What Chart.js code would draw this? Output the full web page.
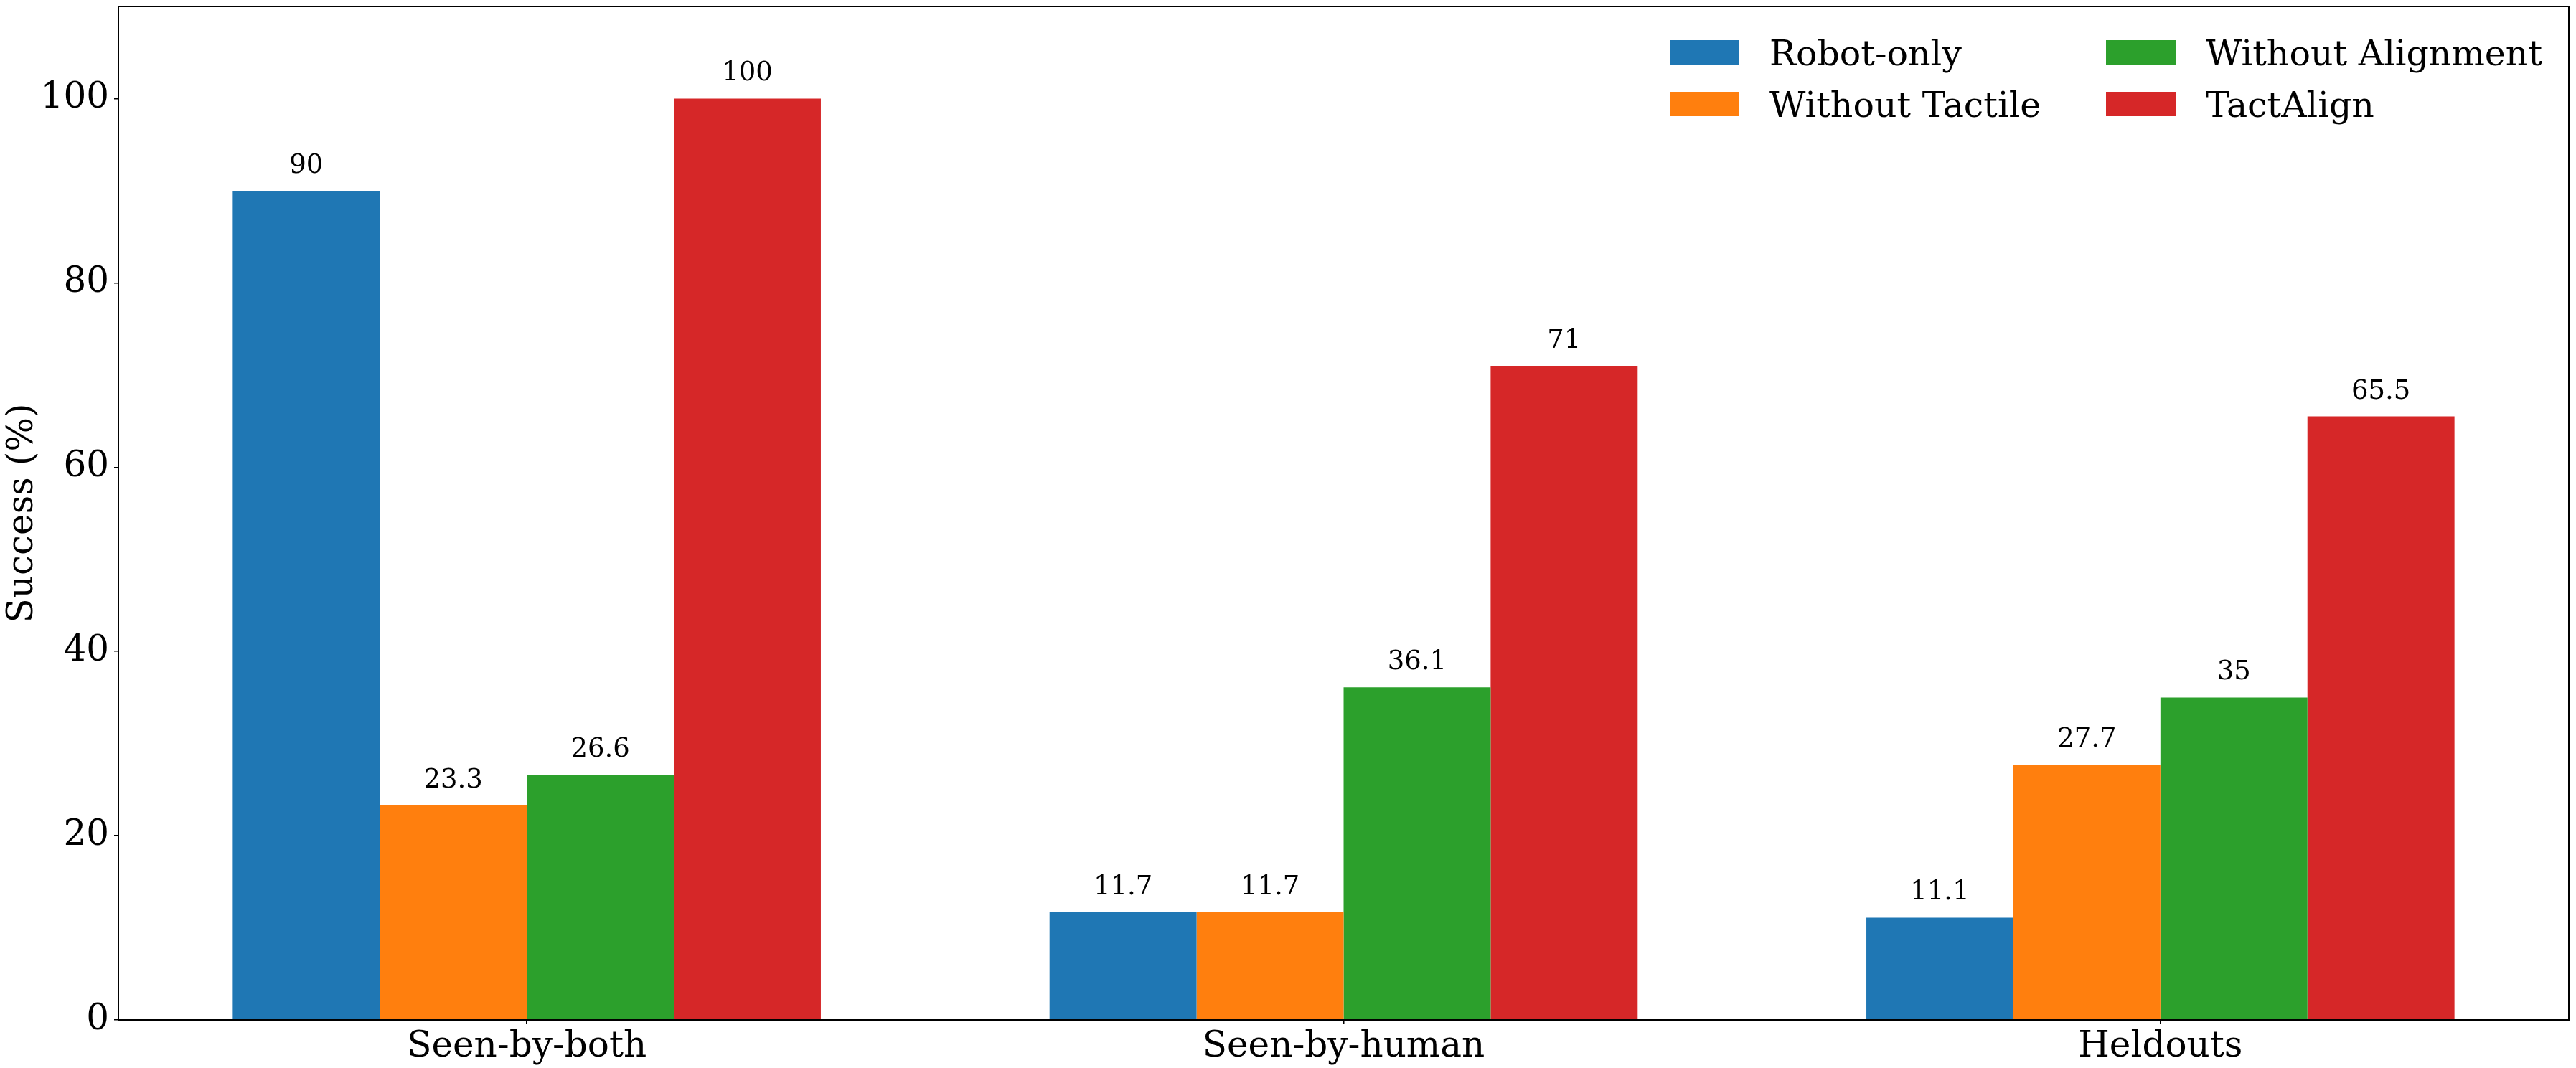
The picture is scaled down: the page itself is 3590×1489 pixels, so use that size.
<!DOCTYPE html>
<html>
<head>
<meta charset="utf-8">
<script src="https://cdn.jsdelivr.net/npm/chart.js@4"></script>
<style>
  body { margin: 0; background: #fff; }
  canvas { display: block; }
</style>
</head>
<body>
<canvas id="chart" width="3590" height="1489"></canvas>
<script>
// categories and series
const groups = ['Seen-by-both', 'Seen-by-human', 'Heldouts'];
const robotOnly = [90, 11.7, 11.1];
const withoutTactile = [23.3, 11.7, 27.7];
const withoutAlignment = [26.6, 36.1, 35];
const tactAlign = [100, 71, 65.5];
const yTicks = [0, 20, 40, 60, 80, 100];

const FONT = 'DejaVu Serif';
Chart.defaults.font.family = FONT;
Chart.defaults.color = '#000';

// value labels above each bar
const barLabels = {
  id: 'barLabels',
  afterDatasetsDraw(chart) {
    const ctx = chart.ctx;
    ctx.save();
    ctx.font = '37px "' + FONT + '"';
    ctx.fillStyle = '#000';
    ctx.textAlign = 'center';
    ctx.textBaseline = 'alphabetic';
    chart.data.datasets.forEach((ds, i) => {
      chart.getDatasetMeta(i).data.forEach((bar, j) => {
        ctx.fillText(String(ds.data[j]), bar.x, bar.y - 25);
      });
    });
    ctx.restore();
  }
};

// axes box (all four spines) and a two-column legend like matplotlib's
const frameAndLegend = {
  id: 'frameAndLegend',
  afterDraw(chart) {
    const ctx = chart.ctx;
    const a = chart.chartArea;
    ctx.save();
    ctx.strokeStyle = '#000';
    ctx.lineWidth = 2;
    ctx.strokeRect(a.left, a.top, a.right - a.left, a.bottom - a.top);

    // column-first order, as with ncol=2
    const colX = [2327, 2935];
    const rowY = [56, 128];
    ctx.font = '49px "' + FONT + '"';
    ctx.textBaseline = 'alphabetic';
    ctx.textAlign = 'left';
    chart.data.datasets.forEach((ds, k) => {
      const x = colX[Math.floor(k / 2)];
      const y = rowY[k % 2];
      ctx.fillStyle = ds.backgroundColor;
      ctx.fillRect(x, y, 97, 34);
      ctx.fillStyle = '#000';
      ctx.fillText(ds.label, x + 139, y + 35);
    });
    ctx.restore();
  }
};

new Chart(document.getElementById('chart'), {
  type: 'bar',
  data: {
    labels: groups,
    datasets: [
      { label: 'Robot-only', data: robotOnly, backgroundColor: '#1f77b4' },
      { label: 'Without Tactile', data: withoutTactile, backgroundColor: '#ff7f0e' },
      { label: 'Without Alignment', data: withoutAlignment, backgroundColor: '#2ca02c' },
      { label: 'TactAlign', data: tactAlign, backgroundColor: '#d62728' }
    ]
  },
  options: {
    responsive: false,
    animation: false,
    devicePixelRatio: 1,
    categoryPercentage: 0.72,
    barPercentage: 1.0,
    layout: { padding: { top: 9, right: 10, left: 0, bottom: 0 } },
    plugins: {
      legend: { display: false },
      tooltip: { enabled: false }
    },
    scales: {
      x: {
        grid: {
          offset: false,
          drawOnChartArea: false,
          drawTicks: true,
          tickLength: 6,
          color: '#000',
          lineWidth: 1.5
        },
        border: { display: false },
        ticks: { font: { size: 50 }, padding: 2, maxRotation: 0 },
        afterFit(scale) {
          scale.height = 67;
          scale.paddingLeft = 0;
          scale.paddingRight = 0;
        }
      },
      y: {
        min: 0,
        max: 110,
        grid: {
          drawOnChartArea: false,
          drawTicks: true,
          tickLength: 6,
          color: '#000',
          lineWidth: 1.5
        },
        border: { display: false },
        ticks: { font: { size: 50 }, padding: 7 },
        afterBuildTicks(scale) {
          scale.ticks = yTicks.map(v => ({ value: v }));
        },
        title: {
          display: true,
          text: 'Success (%)',
          font: { size: 50 },
          padding: { top: 2, bottom: 0 }
        },
        afterFit(scale) {
          scale.width = 165;
          scale.paddingTop = 0;
          scale.paddingBottom = 0;
        }
      }
    }
  },
  plugins: [barLabels, frameAndLegend]
});
</script>
</body>
</html>
